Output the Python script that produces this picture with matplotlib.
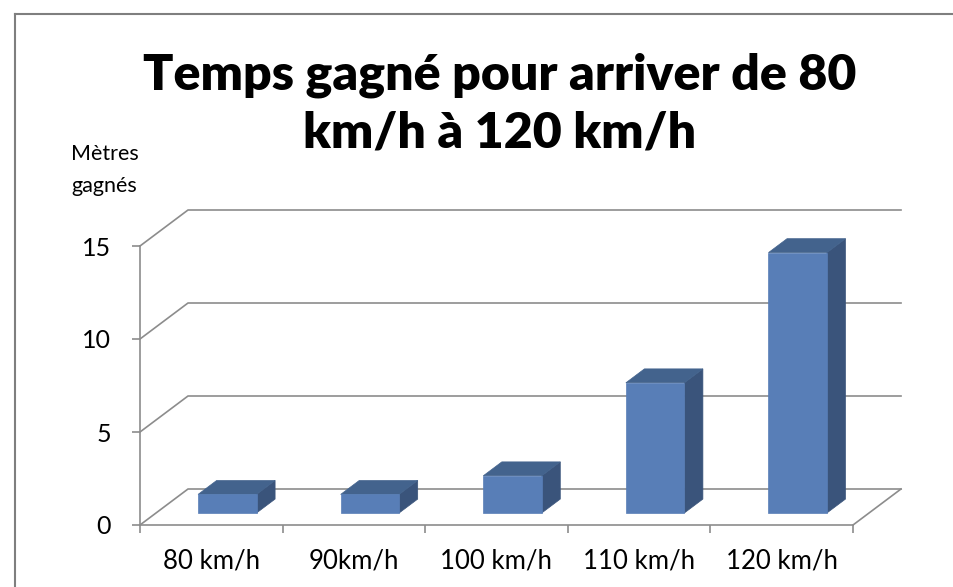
import numpy as np
import matplotlib
matplotlib.use("Agg")
import matplotlib.pyplot as plt
import matplotlib.transforms as mtransforms
from matplotlib.patches import Polygon
from matplotlib.lines import Line2D

categories = ["80 km/h", "90km/h", "100 km/h", "110 km/h", "120 km/h"]
metres = [1, 1, 2, 7, 14]
yticks = [0, 5, 10, 15]

plt.rcParams['font.family'] = ['Lato', 'DejaVu Sans']

grey = '#8c8c8c'
front_c = '#587eb7'
side_c = '#3a547b'
top_c = '#43638d'

# depth of the fake 3d box, in pixels (dpi 100)
DX, DY = 48, 36
bar_d0, bar_d1 = 1 / 3, 0.72
bar_w = 0.41

fig = plt.figure(figsize=(9.54, 5.87), dpi=100)
ax = fig.add_axes([140 / 954, 62 / 587, 713 / 954, 279 / 587])
ax.set_xlim(-0.5, len(categories) - 0.5)
ax.set_ylim(0, 15)
ax.patch.set_visible(False)
for s in ['top', 'right']:
    ax.spines[s].set_visible(False)
for s in ['left', 'bottom']:
    ax.spines[s].set_color(grey)
    ax.spines[s].set_linewidth(1.2)

ax.set_yticks(yticks)
ax.set_yticklabels([str(v) for v in yticks])
ax.tick_params(axis='y', length=6, width=1.2, color=grey, pad=15, labelsize=18)
ax.set_xticks(range(len(categories)))
ax.set_xticklabels(categories)
ax.set_xticks(np.arange(-0.5, len(categories)), minor=True)
ax.tick_params(axis='x', which='major', length=0, pad=17, labelsize=18.5)
ax.tick_params(axis='x', which='minor', length=6, width=1.2, color=grey)

ident = mtransforms.IdentityTransform()


def to_px(x, y, depth):
    p = ax.transData.transform((x, y))
    return (p[0] + depth * DX, p[1] + depth * DY)


def line(pts):
    xs = [p[0] for p in pts]
    ys = [p[1] for p in pts]
    ax.add_line(Line2D(xs, ys, transform=ident, color=grey, lw=1.2, clip_on=False, zorder=1))


x0, x1 = -0.5, len(categories) - 0.5
for v in yticks:
    line([to_px(x0, v, 0), to_px(x0, v, 1), to_px(x1, v, 1)])
line([to_px(x1, 0, 0), to_px(x1, 0, 1)])

for i, v in enumerate(metres):
    l, r = i - bar_w / 2, i + bar_w / 2
    front = [to_px(l, 0, bar_d0), to_px(r, 0, bar_d0), to_px(r, v, bar_d0), to_px(l, v, bar_d0)]
    side = [to_px(r, 0, bar_d0), to_px(r, 0, bar_d1), to_px(r, v, bar_d1), to_px(r, v, bar_d0)]
    top = [to_px(l, v, bar_d0), to_px(r, v, bar_d0), to_px(r, v, bar_d1), to_px(l, v, bar_d1)]
    for pts, c in [(side, side_c), (top, top_c), (front, front_c)]:
        ax.add_patch(Polygon(pts, closed=True, transform=ident, facecolor=c,
                             edgecolor=c, lw=0.5, clip_on=False, zorder=3))

# outer frame (top and left edges visible)
fig.add_artist(Line2D([15 / 954, 953 / 954], [1 - 14 / 587, 1 - 14 / 587], color='#7f7f7f', lw=1.5))
fig.add_artist(Line2D([15 / 954, 15 / 954], [0, 1 - 14 / 587], color='#7f7f7f', lw=1.5))

fig.text(500 / 954, 1 - 104 / 587, "Temps gagné pour arriver de 80\nkm/h à 120 km/h",
         ha='center', va='center', fontsize=36, fontweight='heavy', linespacing=1.35)
fig.text(71 / 954, 1 - 170 / 587, "Mètres\ngagnés", ha='left', va='center',
         multialignment='left', fontsize=15.5, linespacing=1.75)

fig.savefig("out.png", dpi=100)
